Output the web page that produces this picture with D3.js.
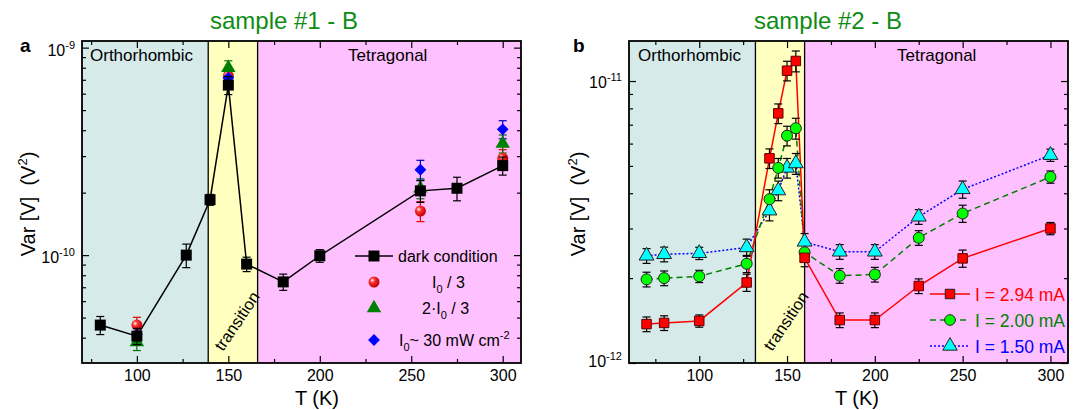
<!DOCTYPE html>
<html>
<head>
<meta charset="utf-8">
<script src="https://cdn.jsdelivr.net/npm/d3@7"></script>
<style>
body { margin: 0; background: #fff; }
text { font-family: "Liberation Sans", Arial, sans-serif; }
</style>
</head>
<body>
<svg id="fig" width="1077" height="410"></svg>
<script>
// ---- sample #1 (panel a) ----
const tDark = [80, 100, 127, 140, 150, 160, 180, 200, 255, 275, 300];
const varDark = [4.6e-11, 4.07e-11, 1.0e-10, 1.85e-10, 6.6e-10, 9.05e-11, 7.43e-11, 9.93e-11, 2.04e-10, 2.1e-10, 2.7e-10];
const errDark = [0.10, 0.09, 0.13, 0.06, 0.10, 0.08, 0.09, 0.07, 0.12, 0.13, 0.10];
const tLight = [100, 150, 255, 300];
const varI0third = [4.6e-11, 7.3e-10, 1.63e-10, 2.93e-10];
const varI0twoThirds = [3.81e-11, 8.0e-10, 2.1e-10, 3.45e-10];
const varI0 = [4.15e-11, 7.16e-10, 2.58e-10, 4.04e-10];
const errLight = [0.09, 0.08, 0.11, 0.10];
const phaseEdgesA = [70, 139, 166, 310];

// ---- sample #2 (panel b) ----
const tB = [70, 80, 100, 127, 140, 145, 150, 155, 160, 180, 200, 225, 250, 300];
const var294 = [1.374e-12, 1.387e-12, 1.41e-12, 1.93e-12, 5.32e-12, 7.68e-12, 1.088e-11, 1.178e-11, 2.36e-12, 1.42e-12, 1.42e-12, 1.875e-12, 2.35e-12, 3.0e-12];
const var200 = [1.98e-12, 2.0e-12, 2.03e-12, 2.25e-12, 3.81e-12, 4.92e-12, 6.4e-12, 6.8e-12, 2.47e-12, 2.04e-12, 2.06e-12, 2.78e-12, 3.39e-12, 4.57e-12];
const var150 = [2.40e-12, 2.43e-12, 2.45e-12, 2.57e-12, 3.47e-12, 4.09e-12, 4.92e-12, 5.1e-12, 2.69e-12, 2.48e-12, 2.48e-12, 3.3e-12, 4.13e-12, 5.46e-12];
const errB = [0.06, 0.06, 0.05, 0.07, 0.08, 0.08, 0.08, 0.085, 0.07, 0.06, 0.06, 0.06, 0.07, 0.05];
const phaseEdgesB = [60, 132, 160, 310];

const phaseColors = ['#d6eaea', '#ffffc0', '#ffc0ff'];
const xMajor = [100, 150, 200, 250, 300];

const svg = d3.select('#fig');

// radial gradient for the red "ball" markers
const defs = svg.append('defs');
const grad = defs.append('radialGradient').attr('id', 'ball').attr('cx', '35%').attr('cy', '35%').attr('r', '65%');
grad.append('stop').attr('offset', '0%').attr('stop-color', '#ffffff');
grad.append('stop').attr('offset', '35%').attr('stop-color', '#ff3030');
grad.append('stop').attr('offset', '100%').attr('stop-color', '#c00000');

function makePanel(box, xDomain, yDomain, xMinor) {
    const x = d3.scaleLinear().domain(xDomain).range([box.left, box.right]);
    const y = d3.scaleLog().domain(yDomain).range([box.bottom, box.top]);
    return { x, y, box, xMinor };
}

function drawPhases(p, edges, textPos) {
    const g = svg.append('g');
    for (let i = 0; i < 3; i++) {
        g.append('rect')
            .attr('x', p.x(edges[i])).attr('y', p.box.top)
            .attr('width', p.x(edges[i + 1]) - p.x(edges[i]))
            .attr('height', p.box.bottom - p.box.top)
            .attr('fill', phaseColors[i]);
    }
    [edges[1], edges[2]].forEach(e => {
        g.append('line')
            .attr('x1', p.x(e)).attr('x2', p.x(e))
            .attr('y1', p.box.top).attr('y2', p.box.bottom)
            .attr('stroke', '#000').attr('stroke-width', 1.3);
    });
    g.append('text').attr('x', textPos.ortho).attr('y', 61)
        .attr('font-size', 17).text('Orthorhombic');
    g.append('text').attr('x', textPos.tetra).attr('y', 61)
        .attr('font-size', 17).text('Tetragonal');
    g.append('text')
        .attr('transform', 'translate(' + textPos.trans[0] + ',' + textPos.trans[1] + ') rotate(-56)')
        .attr('font-size', 16.5).text('transition');
}

function drawAxes(p, yMajor, yLabels) {
    const b = p.box;
    const minorY = p.y.ticks().filter(v => yMajor.indexOf(v) < 0 && Math.abs(Math.log10(v) % 1) > 1e-6);
    const strip = g => g.select('.domain').remove();

    svg.append('g').attr('transform', 'translate(0,' + b.bottom + ')')
        .call(d3.axisBottom(p.x).tickValues(xMajor).tickSize(-7).tickPadding(7))
        .call(strip)
        .call(g => g.selectAll('text').attr('font-size', 16).attr('fill', '#000')
            .style('font-family', '"Liberation Sans", Arial, sans-serif'));
    svg.append('g').attr('transform', 'translate(0,' + b.bottom + ')')
        .call(d3.axisBottom(p.x).tickValues(p.xMinor).tickSize(-4).tickFormat(''))
        .call(strip);
    svg.append('g').attr('transform', 'translate(0,' + b.top + ')')
        .call(d3.axisTop(p.x).tickValues(xMajor).tickSize(-7).tickFormat(''))
        .call(strip);
    svg.append('g').attr('transform', 'translate(0,' + b.top + ')')
        .call(d3.axisTop(p.x).tickValues(p.xMinor).tickSize(-4).tickFormat(''))
        .call(strip);

    svg.append('g').attr('transform', 'translate(' + b.left + ',0)')
        .call(d3.axisLeft(p.y).tickValues(yMajor).tickSize(-7).tickFormat(''))
        .call(strip);
    svg.append('g').attr('transform', 'translate(' + b.left + ',0)')
        .call(d3.axisLeft(p.y).tickValues(minorY).tickSize(-4).tickFormat(''))
        .call(strip);
    svg.append('g').attr('transform', 'translate(' + b.right + ',0)')
        .call(d3.axisRight(p.y).tickValues(yMajor).tickSize(-7).tickFormat(''))
        .call(strip);
    svg.append('g').attr('transform', 'translate(' + b.right + ',0)')
        .call(d3.axisRight(p.y).tickValues(minorY).tickSize(-4).tickFormat(''))
        .call(strip);
    svg.selectAll('.tick line').attr('stroke', '#000').attr('stroke-width', 1.2);

    // log labels 10^n
    yMajor.forEach((v, i) => {
        const t = svg.append('text').attr('x', b.left - 7).attr('y', p.y(v) + yLabels.dy[i])
            .attr('text-anchor', 'end').attr('font-size', 16);
        t.append('tspan').text('10');
        t.append('tspan').attr('dy', -7).attr('font-size', 11).text(yLabels.exp[i]);
    });

    svg.append('rect')
        .attr('x', b.left).attr('y', b.top)
        .attr('width', b.right - b.left).attr('height', b.bottom - b.top)
        .attr('fill', 'none').attr('stroke', '#000').attr('stroke-width', 1.8);
}

function errorBars(p, ts, vs, errs, color) {
    const g = svg.append('g').attr('stroke', color).attr('stroke-width', 1.2);
    ts.forEach((t, i) => {
        const cx = p.x(t);
        const y1 = p.y(vs[i] * (1 + errs[i]));
        const y2 = p.y(vs[i] * (1 - errs[i]));
        g.append('line').attr('x1', cx).attr('x2', cx).attr('y1', y1).attr('y2', y2);
        g.append('line').attr('x1', cx - 4).attr('x2', cx + 4).attr('y1', y1).attr('y2', y1);
        g.append('line').attr('x1', cx - 4).attr('x2', cx + 4).attr('y1', y2).attr('y2', y2);
    });
}

function markers(p, ts, vs, sym, size, fill, stroke, rot) {
    svg.append('g').selectAll('path').data(ts).enter().append('path')
        .attr('d', d3.symbol().type(sym).size(size))
        .attr('transform', (t, i) => 'translate(' + p.x(t) + ',' + p.y(vs[i]) + ')' + (rot ? ' rotate(' + rot + ')' : ''))
        .attr('fill', fill)
        .attr('stroke', stroke || 'none')
        .attr('stroke-width', 1);
}

function seriesLine(p, ts, vs, color, dash) {
    const line = d3.line().x(d => p.x(d[0])).y(d => p.y(d[1]));
    svg.append('path')
        .attr('d', line(ts.map((t, i) => [t, vs[i]])))
        .attr('fill', 'none').attr('stroke', color).attr('stroke-width', 1.5)
        .attr('stroke-dasharray', dash || null);
}

// ================= panel a =================
const pA = makePanel({ left: 82, right: 521, top: 41, bottom: 363 }, [70, 310],
    [Math.pow(10, -10.52), Math.pow(10, -8.968)], [75, 125, 175, 225, 275]);
drawPhases(pA, phaseEdgesA, { ortho: 90, tetra: 348, trans: [223, 352] });

seriesLine(pA, tDark, varDark, '#000');
errorBars(pA, tLight, varI0third, errLight, '#e00000');
errorBars(pA, tLight, varI0twoThirds, errLight, '#007000');
errorBars(pA, tLight, varI0, errLight, '#0000c0');
tLight.forEach((t, i) => {
    svg.append('circle').attr('cx', pA.x(t)).attr('cy', pA.y(varI0third[i])).attr('r', 5.5)
        .attr('fill', 'url(#ball)');
});
markers(pA, tLight, varI0twoThirds, d3.symbolTriangle, 90, '#008000');
markers(pA, tLight, varI0, d3.symbolSquare, 70, '#0000ff', null, 45);
errorBars(pA, tDark, varDark, errDark, '#000');
markers(pA, tDark, varDark, d3.symbolSquare, 121, '#000');
drawAxes(pA, [1e-10, 1e-9], { exp: ['-10', '-9'], dy: [8, 8] });

// legend a
const legA = svg.append('g');
legA.append('line').attr('x1', 355).attr('x2', 393).attr('y1', 256).attr('y2', 256)
    .attr('stroke', '#000').attr('stroke-width', 1.5);
legA.append('path').attr('d', d3.symbol().type(d3.symbolSquare).size(121)).attr('transform', 'translate(374,256)');
legA.append('text').attr('x', 398).attr('y', 262).attr('font-size', 16).text('dark condition');
legA.append('circle').attr('cx', 374).attr('cy', 282).attr('r', 5.5).attr('fill', 'url(#ball)');
const l2 = legA.append('text').attr('x', 432).attr('y', 288).attr('font-size', 16);
l2.append('tspan').text('I');
l2.append('tspan').attr('dy', 5).attr('font-size', 11).text('0');
l2.append('tspan').attr('dy', -5).text('\u00a0/ 3');
legA.append('path').attr('d', d3.symbol().type(d3.symbolTriangle).size(90)).attr('fill', '#008000')
    .attr('transform', 'translate(374,308)');
const l3 = legA.append('text').attr('x', 422).attr('y', 314).attr('font-size', 16);
l3.append('tspan').text('2\u00b7I');
l3.append('tspan').attr('dy', 5).attr('font-size', 11).text('0');
l3.append('tspan').attr('dy', -5).text('\u00a0/ 3');
legA.append('path').attr('d', d3.symbol().type(d3.symbolSquare).size(70)).attr('fill', '#0000ff')
    .attr('transform', 'translate(374,340) rotate(45)');
const l4 = legA.append('text').attr('x', 399).attr('y', 346).attr('font-size', 16);
l4.append('tspan').text('I');
l4.append('tspan').attr('dy', 5).attr('font-size', 11).text('0');
l4.append('tspan').attr('dy', -5).text('~ 30 mW cm');
l4.append('tspan').attr('dy', -7).attr('font-size', 11).text('-2');

// ================= panel b =================
const pB = makePanel({ left: 629, right: 1068, top: 41, bottom: 363 }, [60, 310],
    [1e-12, Math.pow(10, -10.858)], [75, 125, 175, 225, 275]);
drawPhases(pB, phaseEdgesB, { ortho: 638, tetra: 897, trans: [772, 352] });

seriesLine(pB, tB, var150, '#0000ff', '2,2');
seriesLine(pB, tB, var200, '#008000', '6,4');
seriesLine(pB, tB, var294, '#ff0000');
errorBars(pB, tB, var150, errB, '#000');
errorBars(pB, tB, var200, errB, '#000');
errorBars(pB, tB, var294, errB, '#000');
markers(pB, tB, var150, d3.symbolTriangle, 95, '#00ffff', '#222');
markers(pB, tB, var200, d3.symbolCircle, 95, '#00ff00', '#222');
markers(pB, tB, var294, d3.symbolSquare, 90, '#ff0000', '#600000');
drawAxes(pB, [1e-12, 1e-11], { exp: ['-12', '-11'], dy: [4, 7] });

// legend b
const legB = [
    { label: 'I = 2.94 mA', color: '#ff0000', text: '#ff0000', sym: d3.symbolSquare, fill: '#ff0000', dash: null, y: 294 },
    { label: 'I = 2.00 mA', color: '#008000', text: '#008000', sym: d3.symbolCircle, fill: '#00ff00', dash: '6,4', y: 320 },
    { label: 'I = 1.50 mA', color: '#0000ff', text: '#0000ff', sym: d3.symbolTriangle, fill: '#00ffff', dash: '2,2', y: 346 }
];
legB.forEach(d => {
    svg.append('line').attr('x1', 930).attr('x2', 970).attr('y1', d.y).attr('y2', d.y)
        .attr('stroke', d.color).attr('stroke-width', 1.5).attr('stroke-dasharray', d.dash);
    svg.append('path').attr('d', d3.symbol().type(d.sym).size(90)).attr('fill', d.fill)
        .attr('stroke', '#222').attr('transform', 'translate(950,' + d.y + ')');
    svg.append('text').attr('x', 975).attr('y', d.y + 6.5).attr('font-size', 17.5)
        .attr('fill', d.text).text(d.label);
});

// ================= titles & labels =================
svg.append('text').attr('x', 284).attr('y', 29).attr('text-anchor', 'middle')
    .attr('font-size', 24).attr('fill', '#0f8c14').text('sample #1 - B');
svg.append('text').attr('x', 828).attr('y', 29).attr('text-anchor', 'middle')
    .attr('font-size', 24).attr('fill', '#0f8c14').text('sample #2 - B');
svg.append('text').attr('x', 20).attr('y', 52).attr('font-size', 19).attr('font-weight', 'bold').text('a');
svg.append('text').attr('x', 573).attr('y', 52).attr('font-size', 19).attr('font-weight', 'bold').text('b');

[[317, 35], [857, 585]].forEach(([xc, yx]) => {
    svg.append('text').attr('x', xc).attr('y', 405).attr('text-anchor', 'middle')
        .attr('font-size', 20).text('T (K)');
    const yt = svg.append('text')
        .attr('transform', 'translate(' + yx + ',' + 204 + ') rotate(-90)')
        .attr('text-anchor', 'middle').attr('font-size', 20);
    yt.append('tspan').text('Var [V]\u00a0\u00a0(V');
    yt.append('tspan').attr('dy', -8).attr('font-size', 13).text('2');
    yt.append('tspan').attr('dy', 8).text(')');
});
</script>
</body>
</html>
